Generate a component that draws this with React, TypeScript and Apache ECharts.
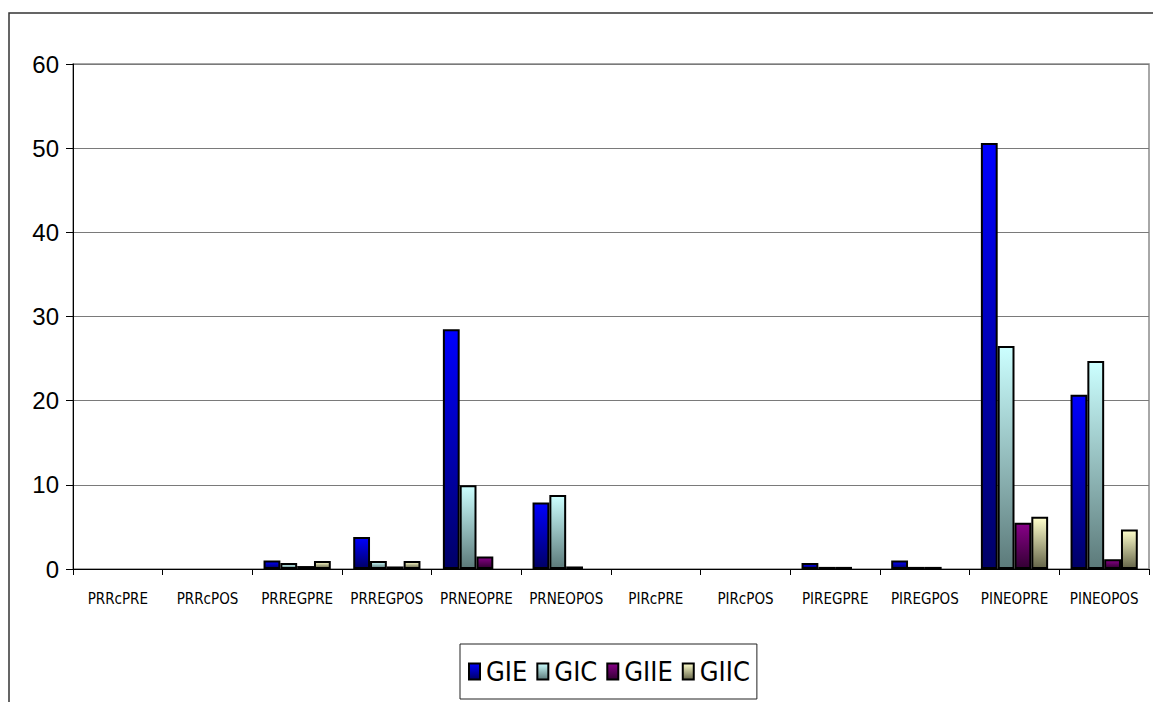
import React, { useEffect, useRef } from "react";
import * as echarts from "echarts";

const categories = [
  "PRRcPRE", "PRRcPOS", "PRREGPRE", "PRREGPOS", "PRNEOPRE", "PRNEOPOS",
  "PIRcPRE", "PIRcPOS", "PIREGPRE", "PIREGPOS", "PINEOPRE", "PINEOPOS",
];

const gie = [0, 0, 1.0, 3.8, 28.5, 7.9, 0, 0, 0.7, 1.0, 50.6, 20.7];
const gic = [0, 0, 0.7, 0.95, 9.95, 8.8, 0, 0, 0.25, 0.25, 26.5, 24.7];
const giie = [0, 0, 0.35, 0.3, 1.5, 0.3, 0, 0, 0.25, 0.25, 5.5, 1.15];
const giic = [0, 0, 0.95, 0.95, 0, 0, 0, 0, 0, 0, 6.2, 4.7];

const yTicks = { min: 0, max: 60, interval: 10 };

const CONDENSED = "'DejaVu Sans Condensed', 'Liberation Sans', Arial, sans-serif";
const SANS = "'Liberation Sans', Arial, sans-serif";

const grad = (top: string, bottom: string) =>
  new echarts.graphic.LinearGradient(0, 0, 0, 1, [
    { offset: 0, color: top },
    { offset: 1, color: bottom },
  ]);

const seriesDefs = [
  { name: "GIE", data: gie, top: "#0000ff", bottom: "#000066" },
  { name: "GIC", data: gic, top: "#ccffff", bottom: "#5c7a7a" },
  { name: "GIIE", data: giie, top: "#880088", bottom: "#330033" },
  { name: "GIIC", data: giic, top: "#ffffcc", bottom: "#66664a" },
];

// Empty cells (zero) draw no bar at all
const toBarData = (values: number[]) => values.map((v) => (v === 0 ? "-" : v));

export default function App() {
  const ref = useRef<HTMLDivElement>(null);

  useEffect(() => {
    if (!ref.current) return;
    const chart = echarts.init(ref.current, undefined, { renderer: "svg" });
    chart.setOption({
      animation: false,
      backgroundColor: "#ffffff",
      graphic: [
        {
          type: "rect",
          shape: { x: 9, y: 13, width: 1300, height: 900 },
          style: { fill: "none", stroke: "#333333", lineWidth: 1.5 },
          z: -1,
        },
      ],
      grid: {
        left: 73,
        top: 64,
        right: 4,
        bottom: 133,
        show: true,
        borderColor: "#8c8c8c",
        borderWidth: 1.5,
        containLabel: false,
      },
      legend: {
        bottom: 3,
        left: 460,
        orient: "horizontal",
        itemWidth: 11,
        itemHeight: 16,
        itemGap: 9,
        padding: [14, 7, 14, 8],
        borderColor: "#222222",
        borderWidth: 1,
        icon: "rect",
        textStyle: { fontFamily: CONDENSED, fontSize: 27, color: "#000000", padding: [0, 0, 0, 1] },
        data: seriesDefs.map((s) => s.name),
      },
      xAxis: {
        type: "category",
        data: categories,
        axisLine: { show: true, lineStyle: { color: "#000000", width: 1 } },
        axisTick: { show: true, length: 6, inside: false, alignWithLabel: false, lineStyle: { color: "#000000" } },
        axisLabel: {
          interval: 0,
          margin: 22,
          fontFamily: CONDENSED,
          fontSize: 15,
          color: "#000000",
        },
        splitLine: { show: false },
      },
      yAxis: {
        type: "value",
        min: yTicks.min,
        max: yTicks.max,
        interval: yTicks.interval,
        axisLine: { show: true, lineStyle: { color: "#000000", width: 1 } },
        axisTick: { show: true, length: 7, inside: false, lineStyle: { color: "#000000" } },
        axisLabel: { margin: 14, fontFamily: SANS, fontSize: 24, color: "#000000" },
        splitLine: { show: true, lineStyle: { color: "#7a7a7a", width: 1.2 } },
      },
      series: seriesDefs.map((s) => ({
        name: s.name,
        type: "bar",
        data: toBarData(s.data),
        barGap: "0%",
        barCategoryGap: "25%",
        itemStyle: {
          color: grad(s.top, s.bottom),
          borderColor: "#000000",
          borderWidth: 2,
        },
      })),
    });
    return () => chart.dispose();
  }, []);

  return (
    <div
      ref={ref}
      style={{ position: "fixed", left: 0, top: 0, width: 1153, height: 702 }}
    />
  );
}
